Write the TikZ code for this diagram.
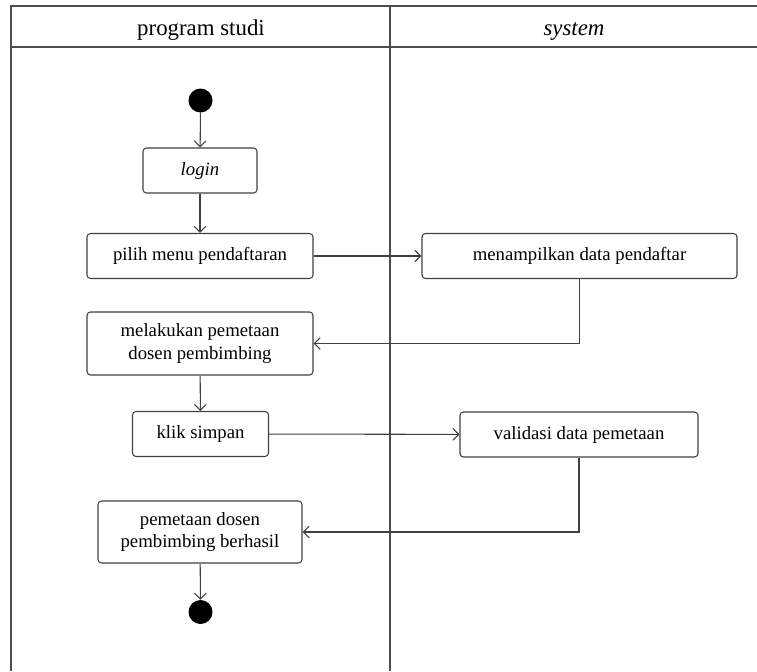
\documentclass[tikz,border=0pt]{standalone}
\usepackage{fontspec}
\setmainfont{Liberation Serif}
\usetikzlibrary{arrows.meta}

\begin{document}
\begin{tikzpicture}[x=0.03cm,y=-0.03cm,
	every node/.style={font=\fontsize{16}{19.5}\selectfont},
	head/.style={font=\fontsize{19.5}{23}\selectfont,anchor=base},
	act/.style={draw=black!75,line width=0.9pt,rounded corners=3pt,align=center,minimum height=1.35cm},
	dot/.style={circle,fill=black,minimum size=0.72cm,inner sep=0pt},
	flow/.style={draw=black!75,line width=0.9pt,-{Straight Barb[length=5pt,width=10pt,line width=0.9pt]}},
	lane/.style={draw=black!70,line width=1pt}]
	\useasboundingbox (0,0) rectangle (757,671);
	% swimlanes
	\draw[lane] (11,671) -- (11,6) -- (757,6);
	\draw[lane] (11,47) -- (757,47);
	\draw[lane] (390,6) -- (390,671);
	\node[head] (lane1) at (201,35) {program studi};
	\node[head] (lane2) at (574,35) {\itshape system};
	% activities
	\node[dot] (start) at (200.5,100.5) {};
	\node[act,minimum width=3.42cm] (login) at (200,170.5) {\itshape login};
	\node[act,minimum width=6.78cm] (menu) at (200,256) {pilih menu pendaftaran};
	\node[act,minimum width=9.45cm] (tampil) at (579.5,256) {menampilkan data pendaftar};
	\node[act,minimum width=6.78cm,minimum height=1.89cm] (petakan) at (200,343.5) {melakukan pemetaan\\dosen pembimbing};
	\node[act,minimum width=4.08cm] (simpan) at (200.5,434) {klik simpan};
	\node[act,minimum width=7.14cm] (validasi) at (579,434.5) {validasi data pemetaan};
	\node[act,minimum width=6.12cm,minimum height=1.86cm] (berhasil) at (200,532) {pemetaan dosen\\pembimbing berhasil};
	\node[dot] (end) at (200.5,612) {};
	% connectors
	\draw[flow] (start) -- (login);
	\draw[flow] (login) -- (menu);
	\draw[flow] (menu) -- (tampil);
	\draw[flow] (tampil.south) |- (petakan.east);
	\draw[flow] (petakan) -- (simpan);
	\draw[flow] (simpan) -- (validasi);
	\draw[flow] (validasi.south) |- (berhasil.east);
	\draw[flow] (berhasil) -- (end);
\end{tikzpicture}
\end{document}
